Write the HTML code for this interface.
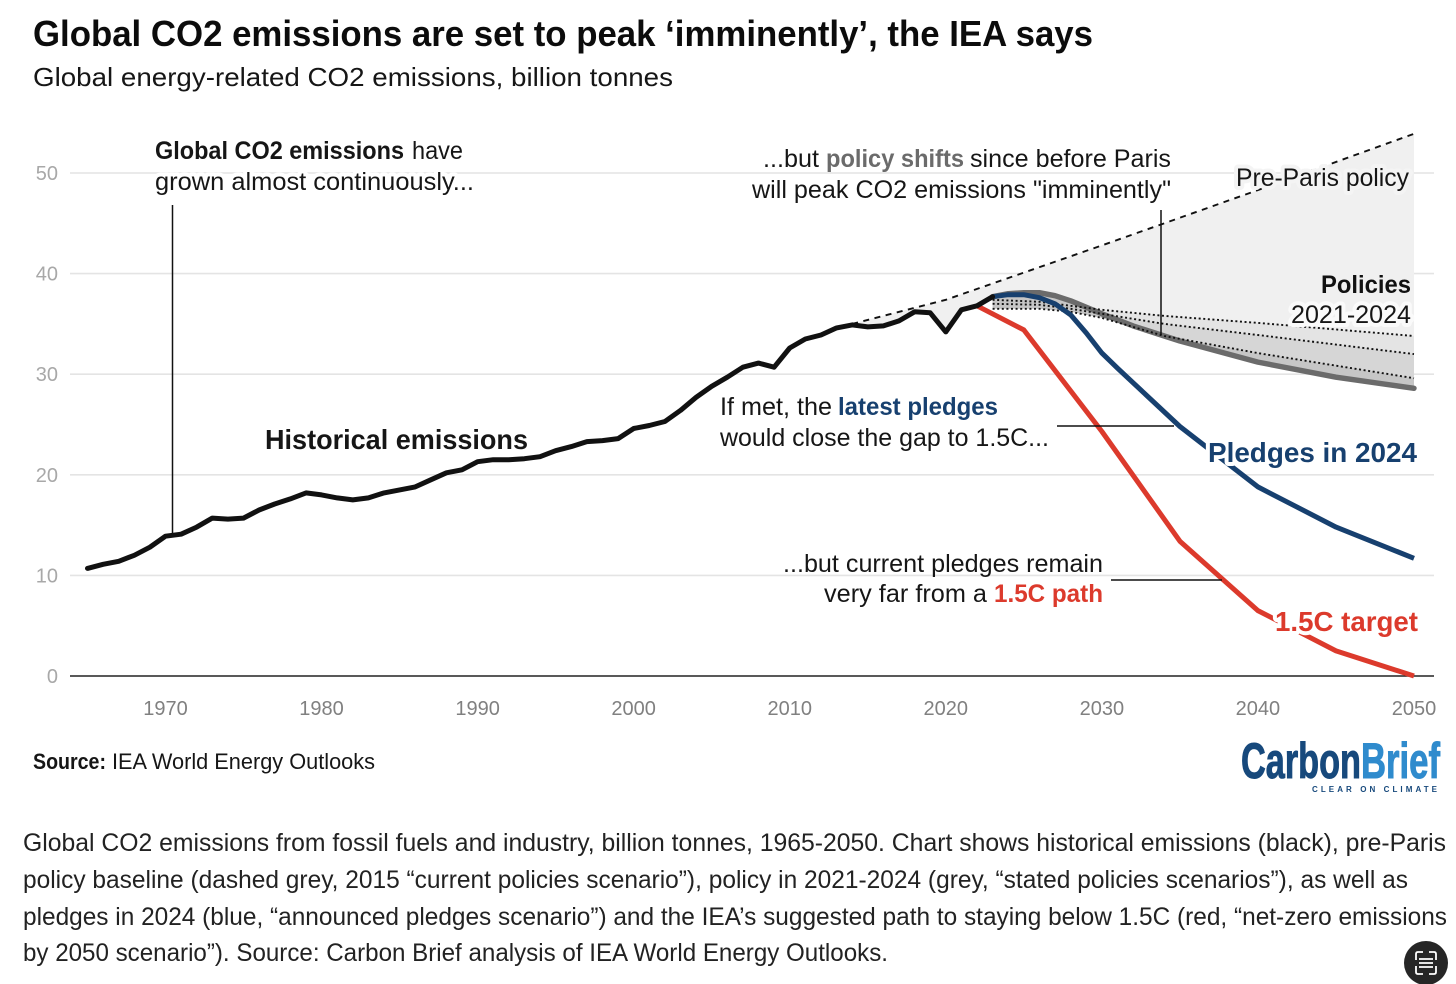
<!DOCTYPE html>
<html lang="en">
<head>
<meta charset="utf-8">
<title>Global CO2 emissions are set to peak imminently</title>
<style>
html,body{margin:0;padding:0;background:#fff;}
body{width:1456px;height:984px;overflow:hidden;}
svg{display:block;font-family:"Liberation Sans",sans-serif;}
.halo{paint-order:stroke;stroke:#fff;stroke-width:8px;stroke-linejoin:round;}
</style>
</head>
<body>
<svg id="chart" width="1456" height="984" viewBox="0 0 1456 984" xmlns="http://www.w3.org/2000/svg">
  <text x="33" y="46" font-size="36" font-weight="700" fill="#0c0c0c" textLength="1060" lengthAdjust="spacingAndGlyphs">Global CO2 emissions are set to peak ‘imminently’, the IEA says</text>
  <text x="33" y="86" font-size="26" fill="#161616" textLength="640" lengthAdjust="spacingAndGlyphs">Global energy-related CO2 emissions, billion tonnes</text>

  <g id="grid"></g>
  <g id="yaxis"></g>
  <g id="xaxis"></g>
  <g id="marks"></g>

  <g stroke="#111" stroke-width="1.5">
    <line x1="172.5" y1="205" x2="172.5" y2="535"/>
    <line x1="1161" y1="210" x2="1161" y2="335"/>
    <line x1="1057" y1="426" x2="1174" y2="426"/>
    <line x1="1111" y1="580" x2="1222" y2="580"/>
  </g>

  <g font-size="25" fill="#161616">
    <text x="155" y="159" font-weight="700" textLength="249" lengthAdjust="spacingAndGlyphs">Global CO2 emissions</text>
    <text x="412" y="159" textLength="51" lengthAdjust="spacingAndGlyphs">have</text>
    <text class="halo" x="155" y="190" textLength="319" lengthAdjust="spacingAndGlyphs">grown almost continuously...</text>
  </g>
  <g font-size="25" fill="#161616">
    <text x="763" y="167" textLength="56" lengthAdjust="spacingAndGlyphs">...but</text>
    <text x="826" y="167" font-weight="700" fill="#6b6b6b" textLength="138" lengthAdjust="spacingAndGlyphs">policy shifts</text>
    <text x="970" y="167" textLength="201" lengthAdjust="spacingAndGlyphs">since before Paris</text>
    <text x="752" y="198" textLength="419" lengthAdjust="spacingAndGlyphs">will peak CO2 emissions "imminently"</text>
  </g>
  <text id="pre-paris" class="halo" x="1236" y="186" font-size="25" fill="#161616" textLength="173" lengthAdjust="spacingAndGlyphs" style="stroke:#f4f4f4">Pre-Paris policy</text>
  <text x="1321" y="293" font-size="25" font-weight="700" fill="#111" textLength="90" lengthAdjust="spacingAndGlyphs">Policies</text>
  <text class="halo" x="1291" y="323" font-size="25" fill="#161616" textLength="120" lengthAdjust="spacingAndGlyphs" style="stroke:#fafafa">2021-2024</text>
  <text x="265" y="449" font-size="28" font-weight="700" fill="#161616" textLength="263" lengthAdjust="spacingAndGlyphs">Historical emissions</text>
  <g font-size="25" fill="#161616">
    <text x="720" y="415" textLength="112" lengthAdjust="spacingAndGlyphs">If met, the</text>
    <text x="838" y="415" font-weight="700" fill="#17406f" textLength="160" lengthAdjust="spacingAndGlyphs">latest pledges</text>
    <text x="720" y="446" textLength="329" lengthAdjust="spacingAndGlyphs">would close the gap to 1.5C...</text>
  </g>
  <text class="halo" x="1208" y="462" font-size="28" font-weight="700" fill="#17406f" textLength="209" lengthAdjust="spacingAndGlyphs">Pledges in 2024</text>
  <g font-size="25" fill="#161616">
    <text x="783" y="572" textLength="320" lengthAdjust="spacingAndGlyphs">...but current pledges remain</text>
    <text x="824" y="602" textLength="163" lengthAdjust="spacingAndGlyphs">very far from a</text>
    <text x="994" y="602" font-weight="700" fill="#dc3a2c" textLength="109" lengthAdjust="spacingAndGlyphs">1.5C path</text>
  </g>
  <text class="halo" x="1275" y="631" font-size="28" font-weight="700" fill="#dc3a2c" textLength="143" lengthAdjust="spacingAndGlyphs">1.5C target</text>

  <g font-size="22.5" fill="#161616">
    <text x="33" y="769" font-weight="700" textLength="73" lengthAdjust="spacingAndGlyphs">Source:</text>
    <text x="112" y="769" textLength="263" lengthAdjust="spacingAndGlyphs">IEA World Energy Outlooks</text>
  </g>

  <g>
    <text x="1241" y="778" font-size="50" font-weight="700" fill="#17497c" stroke="#17497c" stroke-width="1" textLength="120" lengthAdjust="spacingAndGlyphs">Carbon</text>
    <text x="1361" y="778" font-size="50" font-weight="700" fill="#2f8bcd" stroke="#2f8bcd" stroke-width="1" textLength="79" lengthAdjust="spacingAndGlyphs">Brief</text>
    <text x="1312" y="792" font-size="8" font-weight="700" fill="#17497c" textLength="125">CLEAR ON CLIMATE</text>
  </g>

  <g font-size="25" fill="#222">
    <text x="23" y="851" textLength="1423" lengthAdjust="spacingAndGlyphs">Global CO2 emissions from fossil fuels and industry, billion tonnes, 1965-2050. Chart shows historical emissions (black), pre-Paris</text>
    <text x="23" y="888" textLength="1385" lengthAdjust="spacingAndGlyphs">policy baseline (dashed grey, 2015 “current policies scenario”), policy in 2021-2024 (grey, “stated policies scenarios”), as well as</text>
    <text x="23" y="925" textLength="1424" lengthAdjust="spacingAndGlyphs">pledges in 2024 (blue, “announced pledges scenario”) and the IEA’s suggested path to staying below 1.5C (red, “net-zero emissions</text>
    <text x="23" y="961" textLength="865" lengthAdjust="spacingAndGlyphs">by 2050 scenario”). Source: Carbon Brief analysis of IEA World Energy Outlooks.</text>
  </g>

  <g>
    <circle cx="1426" cy="963" r="22" fill="#262626"/>
    <path d="M1416 960v-6q0-2 2-2h5M1429 952h5q2 0 2 2v6M1416 966v6q0 2 2 2h5M1429 974h5q2 0 2-2v-6M1419 959h14M1419 963h14M1419 967h14" fill="none" stroke="#fff" stroke-width="1.8"/>
  </g>
</svg>
<script>
const yTicks = [0, 10, 20, 30, 40, 50];
const xTicks = [1970, 1980, 1990, 2000, 2010, 2020, 2030, 2040, 2050];

const historicalYears = [1965,1966,1967,1968,1969,1970,1971,1972,1973,1974,1975,1976,1977,1978,1979,1980,1981,1982,1983,1984,1985,1986,1987,1988,1989,1990,1991,1992,1993,1994,1995,1996,1997,1998,1999,2000,2001,2002,2003,2004,2005,2006,2007,2008,2009,2010,2011,2012,2013,2014,2015,2016,2017,2018,2019,2020,2021,2022,2023];
const historicalValues = [10.7,11.1,11.4,12.0,12.8,13.9,14.1,14.8,15.7,15.6,15.7,16.5,17.1,17.6,18.2,18.0,17.7,17.5,17.7,18.2,18.5,18.8,19.5,20.2,20.5,21.3,21.5,21.5,21.6,21.8,22.4,22.8,23.3,23.4,23.6,24.6,24.9,25.3,26.4,27.7,28.8,29.7,30.7,31.1,30.7,32.6,33.5,33.9,34.6,34.9,34.7,34.8,35.3,36.2,36.1,34.2,36.4,36.8,37.7];

const preParisYears = [2014,2020,2030,2040,2050];
const preParisValues = [35.0,37.4,42.8,48.3,53.9];

const policyYears = [2023,2024,2025,2026,2027,2028,2030,2032,2034,2035,2040,2045,2050];
const policyValues = [37.7,38.0,38.1,38.1,37.8,37.3,36.0,34.8,33.8,33.3,31.2,29.7,28.6];

const dottedYears = [2023,2026,2028,2030,2034,2040,2050];
const dottedTopValues = [37.4,37.2,36.8,36.4,35.8,35.1,33.8];
const dottedMidValues = [37.0,36.9,36.5,36.0,35.0,33.9,32.0];
const dottedLowValues = [36.5,36.5,36.2,35.6,33.8,32.1,29.6];

const pledgeYears = [2023,2024,2025,2026,2027,2028,2029,2030,2031,2035,2040,2045,2050];
const pledgeValues = [37.7,37.9,37.9,37.6,37.0,35.9,34.1,32.1,30.6,24.8,18.8,14.8,11.7];

const targetYears = [2022,2025,2030,2035,2040,2045,2050];
const targetValues = [36.8,34.4,24.3,13.4,6.5,2.5,0];

const NS = 'http://www.w3.org/2000/svg';
const xScale = year => 165.5 + (year - 1970) * 15.606;
const yScale = value => 676 - value * 10.06;

function pts(years, values) {
  return years.map((yr, i) => xScale(yr).toFixed(1) + ',' + yScale(values[i]).toFixed(1));
}
function band(yearsA, valuesA, yearsB, valuesB) {
  return pts(yearsA, valuesA).concat(pts(yearsB, valuesB).reverse()).join(' ');
}
function svgEl(tag, parent, props) {
  const el = document.createElementNS(NS, tag);
  for (const k in props) el.setAttribute(k, props[k]);
  parent.appendChild(el);
  return el;
}

const grid = document.getElementById('grid');
const yaxis = document.getElementById('yaxis');
const xaxis = document.getElementById('xaxis');
const marks = document.getElementById('marks');

yTicks.forEach(v => {
  if (v > 0) {
    const g = svgEl('line', grid, {x1: 70, x2: 1434, y1: yScale(v), y2: yScale(v), stroke: '#e4e4e4', 'stroke-width': 1.6});
    
    
  }
  const t = svgEl('text', yaxis, {x: 58, y: yScale(v) + 7, 'text-anchor': 'end', 'font-size': 20, fill: '#a8a8a8'});
  t.textContent = v;
  
  
});
xTicks.forEach(v => {
  const t = svgEl('text', xaxis, {x: xScale(v), y: 715, 'text-anchor': 'middle', 'font-size': 20, fill: '#808080'});
  t.textContent = v;
  
  
});
const baseline = svgEl('line', xaxis, {x1: 70, x2: 1434, y1: yScale(0), y2: yScale(0), stroke: '#222', 'stroke-width': 1.6});



const histTailStart = historicalYears.indexOf(2014);
const histTailYears = historicalYears.slice(histTailStart);
const histTailValues = historicalValues.slice(histTailStart);

const fillLight = svgEl('polygon', marks, {
  points: pts(preParisYears, preParisValues)
    .concat(pts(policyYears, policyValues).reverse())
    .concat(pts(histTailYears, histTailValues).reverse()).join(' '),
  fill: '#f0f0f0'
});



const bandTop = svgEl('polygon', marks, {points: band(policyYears, policyValues, dottedYears, dottedTopValues), fill: '#e4e4e4'});


const bandMid = svgEl('polygon', marks, {points: band(policyYears, policyValues, dottedYears, dottedMidValues), fill: '#d6d6d6'});


const bandLow = svgEl('polygon', marks, {points: band(policyYears, policyValues, dottedYears, dottedLowValues), fill: '#c6c6c6'});



function line(parent, years, values, props) {
  return svgEl('polyline', parent, Object.assign({
    points: pts(years, values).join(' '),
    fill: 'none',
    'stroke-linejoin': 'round'
  }, props));
}

const preParisLine = line(marks, preParisYears, preParisValues, {stroke: '#111', 'stroke-width': 1.9, 'stroke-dasharray': '6 5.5'});



const policyLine = line(marks, policyYears, policyValues, {stroke: '#6b6b6b', 'stroke-width': 5.4, 'stroke-linecap': 'round'});



const dotTop = line(marks, dottedYears, dottedTopValues, {stroke: '#111', 'stroke-width': 1.9, 'stroke-dasharray': '2 2.6'});


const dotMid = line(marks, dottedYears, dottedMidValues, {stroke: '#111', 'stroke-width': 1.9, 'stroke-dasharray': '2 2.6'});


const dotLow = line(marks, dottedYears, dottedLowValues, {stroke: '#111', 'stroke-width': 1.9, 'stroke-dasharray': '2 2.6'});



const targetLine = line(marks, targetYears, targetValues, {stroke: '#dc3a2c', 'stroke-width': 5});



const pledgeLine = line(marks, pledgeYears, pledgeValues, {stroke: '#17406f', 'stroke-width': 5});



const historicalLine = line(marks, historicalYears, historicalValues, {stroke: '#111', 'stroke-width': 5, 'stroke-linecap': 'round'});


</script>
</body>
</html>
